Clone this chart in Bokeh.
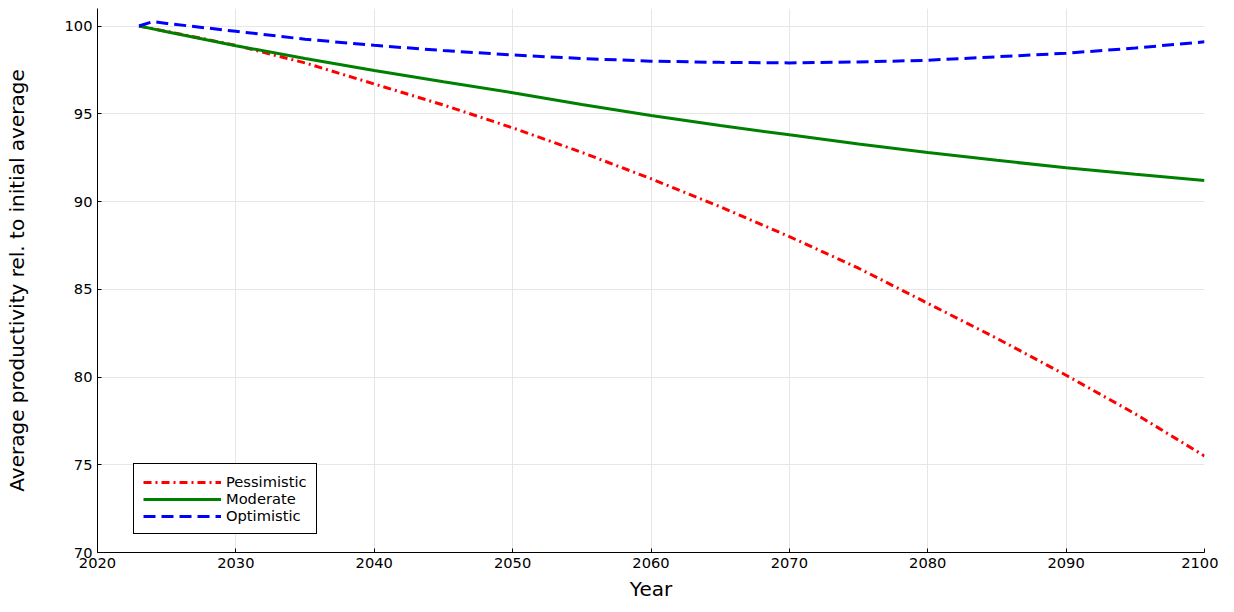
from bokeh.plotting import figure
from bokeh.models import Legend, LegendItem, Range1d, FixedTicker
from bokeh.embed import file_html
from bokeh.resources import INLINE

years = [2023, 2024, 2025, 2030, 2035, 2040, 2045, 2050, 2055, 2060, 2065, 2070, 2075, 2080, 2085, 2090, 2095, 2100]
pessimistic = [100.0, 99.85, 99.7, 98.9, 97.9, 96.7, 95.5, 94.2, 92.8, 91.3, 89.7, 88.0, 86.2, 84.2, 82.2, 80.1, 77.9, 75.5]
moderate = [100.0, 99.84, 99.68, 98.88, 98.15, 97.47, 96.82, 96.2, 95.53, 94.9, 94.33, 93.8, 93.28, 92.8, 92.35, 91.92, 91.55, 91.2]
optimistic = [100.0, 100.25, 100.15, 99.7, 99.25, 98.9, 98.6, 98.35, 98.15, 98.0, 97.93, 97.9, 97.95, 98.05, 98.25, 98.45, 98.75, 99.1]

p = figure(width=1218, height=603, output_backend="svg", toolbar_location=None,
           x_range=Range1d(2020, 2100), y_range=Range1d(70, 101))
p.min_border_left = 97
p.min_border_right = 14
p.min_border_bottom = 43
p.min_border_top = 8
f = "DejaVu Sans"
r1 = p.line(years, pessimistic, color="red", line_width=3, line_dash="8 4 2 4")
r2 = p.line(years, moderate, color="green", line_width=3)
r3 = p.line(years, optimistic, color="blue", line_width=3, line_dash="12 6")

p.xaxis.ticker = FixedTicker(ticks=list(range(2020, 2101, 10)))
p.yaxis.ticker = FixedTicker(ticks=list(range(70, 101, 5)))
p.xaxis.axis_label = "Year"
p.yaxis.axis_label = "Average productivity rel. to initial average"
for ax in (p.xaxis, p.yaxis):
    ax.axis_label_text_font = f
    ax.axis_label_text_font_style = "normal"
    ax.axis_label_text_font_size = "15pt"
    ax.axis_label_text_color = "black"
    ax.major_label_text_font = f
    ax.major_label_text_font_size = "11pt"
    ax.major_label_text_color = "black"
    ax.minor_tick_line_color = None
    ax.major_tick_in = 4
    ax.major_tick_out = 0
    ax.axis_line_color = "black"
    ax.major_tick_line_color = "black"
p.xaxis.axis_label_standoff = 6
p.yaxis.axis_label_standoff = 33
p.grid.grid_line_color = "#e6e6e6"
p.outline_line_color = None

legend = Legend(items=[LegendItem(label="Pessimistic", renderers=[r1]),
                       LegendItem(label="Moderate", renderers=[r2]),
                       LegendItem(label="Optimistic", renderers=[r3])],
                location="bottom_left", label_text_font=f, label_text_font_size="11pt",
                label_text_color="black",
                border_line_color="black", border_line_alpha=1, spacing=-4, padding=9,
                label_height=14, glyph_height=14, glyph_width=78)
legend.margin = 0
legend.location = (36, 18)
p.add_layout(legend)

open("out.html", "w").write(file_html(p, INLINE))
